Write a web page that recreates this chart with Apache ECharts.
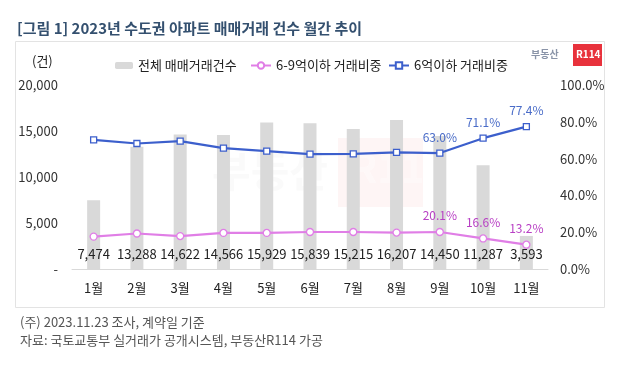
<!DOCTYPE html>
<html><head><meta charset="utf-8">
<script src="https://cdn.jsdelivr.net/npm/echarts@6/dist/echarts.min.js"></script>
<style>html,body{margin:0;padding:0;background:#fff}#c{width:628px;height:367px}</style>
</head><body><div id="c"></div>
<script>
const months = ['1월','2월','3월','4월','5월','6월','7월','8월','9월','10월','11월'];
const totalDeals = [7474,13288,14622,14566,15929,15839,15215,16207,14450,11287,3593];
const share6to9 = [17.6,19.3,17.9,19.6,19.6,20.1,20.1,19.8,20.1,16.6,13.2];
const shareUnder6 = [70.2,68.2,69.5,65.7,64.1,62.4,62.6,63.4,63.0,71.1,77.4];
const labeledIdx = [8,9,10];
const leftTicks = [0,5000,10000,15000,20000];
const rightTicks = [0,20,40,60,80,100];

const F = '"Noto Sans CJK KR", "Noto Sans", sans-serif';
const fmt = v => v.toLocaleString('en-US');
const withLabels = (arr, color, offY) => arr.map((v,i)=> labeledIdx.includes(i)
  ? {value:v, label:{show:true, position:'top', distance:offY, color:color, fontSize:12, fontFamily:F, formatter: p=>p.value.toFixed(1)+'%'}}
  : v);

const chart = echarts.init(document.getElementById('c'), null, {renderer:'canvas'});
chart.setOption({
  animation:false,
  textStyle:{fontFamily:F},
  grid:{left:72, right:80, top:85, bottom:98},
  legend:[
    {data:['전체 매매거래건수'], left:110, top:54, itemWidth:18, itemHeight:7, itemGap:4, textStyle:{fontSize:13, color:'#222', fontFamily:F}},
    {data:['6-9억이하 거래비중'], left:245, top:54, itemWidth:20, itemHeight:8, textStyle:{fontSize:13, color:'#222', fontFamily:F}},
    {data:['6억이하 거래비중'], left:383, top:54, itemWidth:20, itemHeight:8, textStyle:{fontSize:13, color:'#222', fontFamily:F}}
  ],
  xAxis:{type:'category', data:months,
    axisLine:{lineStyle:{color:'#d9d9d9'}}, axisTick:{show:false},
    axisLabel:{color:'#222', fontSize:13, margin:13, fontFamily:F}},
  yAxis:[
    {type:'value', min:leftTicks[0], max:leftTicks[leftTicks.length-1], interval:5000, splitLine:{show:false},
      axisLine:{show:false}, axisTick:{show:false},
      axisLabel:{color:'#333', fontSize:13, margin:14, fontFamily:F, formatter:v=> v===0?'-':fmt(v)}},
    {type:'value', min:rightTicks[0], max:rightTicks[rightTicks.length-1], interval:20, splitLine:{show:false},
      axisLine:{show:false}, axisTick:{show:false},
      axisLabel:{color:'#333', fontSize:13, margin:12, fontFamily:F, formatter:v=> v.toFixed(1)+'%'}}
  ],
  series:[
    {name:'전체 매매거래건수', type:'bar', data:totalDeals, barWidth:13, itemStyle:{color:'#d9d9d9'},
      label:{show:true, position:'insideBottom', distance:8, color:'#222', fontSize:13, fontFamily:F, formatter:p=>fmt(p.value)}},
    {name:'6-9억이하 거래비중', type:'line', yAxisIndex:1, data:withLabels(share6to9,'#b83fc4',6),
      symbol:'circle', symbolSize:7, lineStyle:{color:'#e07ee6', width:2.2},
      itemStyle:{color:'#ffffff', borderColor:'#e07ee6', borderWidth:1.3}, z:5},
    {name:'6억이하 거래비중', type:'line', yAxisIndex:1, data:withLabels(shareUnder6,'#4a6cc8',6),
      symbol:'rect', symbolSize:6, lineStyle:{color:'#3c5fcc', width:2.2},
      itemStyle:{color:'#ffffff', borderColor:'#3c5fcc', borderWidth:1.3}, z:5}
  ],
  graphic:[
    {type:'text', left:17, top:21, z:10, style:{text:'[그림 1] 2023년 수도권 아파트 매매거래 건수 월간 추이', fill:'#34506f', font:'bold 15px '+F}},
    {type:'rect', shape:{x:15.5, y:41.5, width:589, height:266}, style:{fill:'none', stroke:'#e3e3e3', lineWidth:1}, z:-1},
    {type:'text', left:32, top:55, style:{text:'(건)', fill:'#222', font:'13px '+F}},
    {type:'text', left:531, top:49, style:{text:'부동산', fill:'#8a94a8', font:'bold 10px '+F}},
    {type:'rect', shape:{x:573, y:44, width:29, height:22}, style:{fill:'#e8323c'}},
    {type:'text', left:576, top:49, style:{text:'R114', fill:'#fff', font:'bold 10px '+F}},
    {type:'text', left:212, top:150, z:0, style:{text:'부동산', fill:'rgba(120,120,120,0.04)', font:'bold 42px '+F}},
    {type:'rect', shape:{x:338, y:138, width:85, height:69}, style:{fill:'rgba(232,50,60,0.05)'}, z:0},
    {type:'text', left:350, top:148, z:0, style:{text:'R114', fill:'rgba(255,255,255,0.35)', font:'bold 40px '+F}},
    {type:'text', left:20, top:316, style:{text:'(주) 2023.11.23 조사, 계약일 기준', fill:'#555', font:'13px '+F}},
    {type:'text', left:20, top:334, style:{text:'자료: 국토교통부 실거래가 공개시스템, 부동산R114 가공', fill:'#555', font:'13px '+F}}
  ]
});
</script></body></html>
